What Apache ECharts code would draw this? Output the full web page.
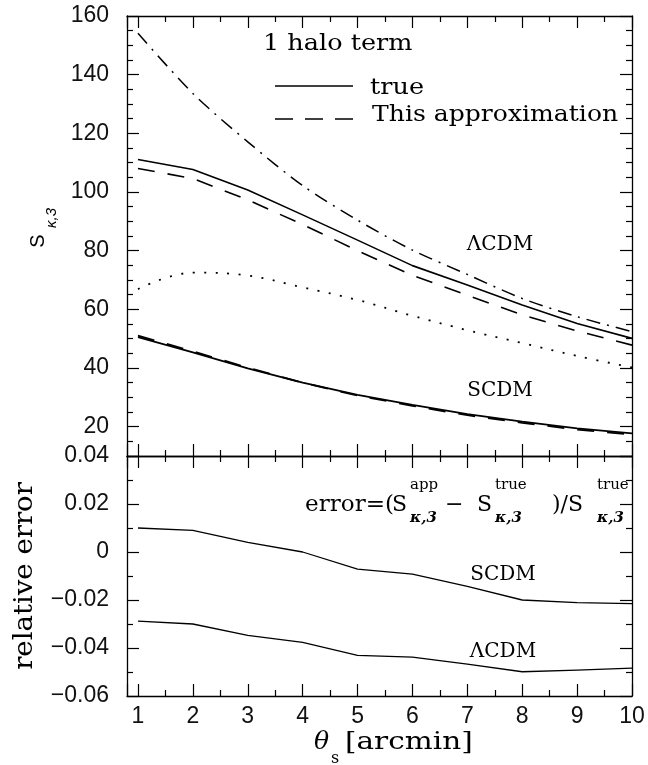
<!DOCTYPE html>
<html>
<head>
<meta charset="utf-8">
<script src="https://cdn.jsdelivr.net/npm/echarts@6/dist/echarts.min.js"></script>
<style>
  html, body { margin: 0; padding: 0; background: #fff; }
  #wrap { position: relative; width: 648px; height: 765px; }
  #main, #notes { position: absolute; left: 0; top: 0; width: 648px; height: 765px; }
  #notes { pointer-events: none; }
</style>
</head>
<body>
<div id="wrap"><div id="main"></div><div id="notes"></div></div>
<script>
// theta_s [arcmin]
var thetaS = [1, 2, 3, 4, 5, 6, 7, 8, 9, 10];

// S_kappa,3 , upper panel
var lcdmTrue    = [111.1, 107.7, 100.7, 92.2, 83.6, 74.9, 68.3, 61.5, 55.2, 50.1];
var lcdmApprox  = [108.0, 104.6, 97.3, 88.9, 80.0, 71.6, 64.8, 58.1, 52.6, 47.8];
var lcdmDotDash = [154.1, 133.6, 117.1, 102.2, 90.4, 80.2, 71.9, 63.7, 57.5, 52.4];
var dottedCurve = [66.9, 72.5, 71.5, 67.5, 63.2, 57.8, 52.9, 48.5, 44.1, 40.2];
var scdmTrue    = [50.5, 45.3, 39.9, 35.0, 30.8, 27.4, 24.3, 21.7, 19.4, 17.7];
var scdmApprox  = [51.0, 45.7, 40.1, 35.0, 30.6, 27.1, 23.9, 21.3, 19.0, 17.3];

// relative error, lower panel
var errScdm = [0.0100, 0.0090, 0.0040, 0.0000, -0.0071, -0.0092, -0.0143, -0.0200, -0.0211, -0.0215];
var errLcdm = [-0.0288, -0.0300, -0.0347, -0.0377, -0.0431, -0.0438, -0.0467, -0.0499, -0.0492, -0.0484];

var SERIF = '"DejaVu Serif", serif';
var SANS = '"Liberation Sans", Arial, sans-serif';

function pairs(ys) {
  return thetaS.map(function (x, i) { return [x, ys[i]]; });
}

function tick() {
  return { show: true, inside: true, length: 12, lineStyle: { color: '#000', width: 1.2 } };
}
function minor(n) {
  return { show: true, splitNumber: n, length: 6, lineStyle: { color: '#000', width: 1.2 } };
}
function axLine() {
  return { show: true, onZero: false, lineStyle: { color: '#000', width: 1.3 } };
}

function xAx(grid, pos, showLabel) {
  return {
    type: 'value', gridIndex: grid, position: pos, min: 0.8, max: 10, splitNumber: 9,
    axisLine: axLine(), axisTick: tick(), minorTick: minor(2),
    splitLine: { show: false }, minorSplitLine: { show: false },
    axisLabel: {
      show: showLabel, margin: 9, fontFamily: SANS, fontSize: 23, color: '#111',
      formatter: function (v) { return v < 1 ? '' : String(v); }
    }
  };
}

function yTop(pos, showLabel) {
  return {
    type: 'value', gridIndex: 0, position: pos, min: 10, max: 160, splitNumber: 8,
    axisLine: axLine(), axisTick: tick(), minorTick: minor(4),
    splitLine: { show: false }, minorSplitLine: { show: false },
    axisLabel: {
      show: showLabel, margin: 18, fontFamily: SANS, fontSize: 23, color: '#111',
      formatter: function (v) { return v < 20 ? '' : String(v); }
    }
  };
}

function yBot(pos, showLabel) {
  return {
    type: 'value', gridIndex: 1, position: pos, min: -0.06, max: 0.04, interval: 0.02,
    axisLine: axLine(), axisTick: tick(), minorTick: minor(2),
    splitLine: { show: false }, minorSplitLine: { show: false },
    axisLabel: {
      show: showLabel, margin: 18, fontFamily: SANS, fontSize: 23, color: '#111',
      formatter: function (v) {
        if (Math.abs(v) < 1e-9) return '0';
        return (v < 0 ? '\u2212' : '') + Math.abs(v).toFixed(2);
      }
    }
  };
}

function curve(name, ys, dash, width, xi, yi, smooth) {
  return {
    name: name, type: 'line', xAxisIndex: xi, yAxisIndex: yi,
    data: pairs(ys), symbol: 'none', smooth: smooth || false, silent: true,
    lineStyle: { color: '#000', width: width, type: dash, cap: 'butt' },
    z: 3
  };
}

function txt(x, y, s, size, extra) {
  var o = {
    type: 'text', x: x, y: y, silent: true,
    style: { text: s, fontFamily: SERIF, fontSize: size, fill: '#000', align: 'left', verticalAlign: 'middle' }
  };
  for (var k in extra || {}) {
    if (k === 'style') { for (var j in extra.style) o.style[j] = extra.style[j]; }
    else o[k] = extra[k];
  }
  return o;
}

function kappa() { return { style: { fontStyle: 'italic', fontWeight: 'bold' } }; }

// axes and curves
var chart = echarts.init(document.getElementById('main'));
chart.setOption({
  animation: false,
  backgroundColor: '#fff',
  grid: [
    { left: 127, right: 16, top: 16, height: 440 },
    { left: 127, right: 16, top: 456, height: 240 }
  ],
  xAxis: [xAx(0, 'bottom', false), xAx(0, 'top', false), xAx(1, 'bottom', true), xAx(1, 'top', false)],
  yAxis: [yTop('left', true), yTop('right', false), yBot('left', true), yBot('right', false)],
  series: [
    curve('lcdmDotDash', lcdmDotDash, [14, 7, 2, 7], 1.5, 0, 0, 0.3),
    curve('lcdmTrue', lcdmTrue, 'solid', 1.6, 0, 0),
    curve('lcdmApprox', lcdmApprox, [17, 13], 1.6, 0, 0),
    curve('dotted', dottedCurve, [2, 9.5], 1.8, 0, 0, 0.4),
    curve('scdmTrue', scdmTrue, 'solid', 1.8, 0, 0),
    curve('scdmApprox', scdmApprox, [17, 13], 1.8, 0, 0),
    curve('errScdm', errScdm, 'solid', 1.3, 2, 2),
    curve('errLcdm', errLcdm, 'solid', 1.3, 2, 2)
  ]
});

// annotations, legend and axis titles on a transparent layer
var notes = echarts.init(document.getElementById('notes'));
notes.setOption({
  animation: false,
  backgroundColor: 'transparent',
  graphic: [
    txt(263, 44, '1 halo term', 22, { scaleX: 1.16 }),
    { type: 'line', silent: true, shape: { x1: 275, y1: 86, x2: 353, y2: 86 }, style: { stroke: '#000', lineWidth: 1.5 } },
    txt(370, 88, 'true', 22, { scaleX: 1.16 }),
    { type: 'line', silent: true, shape: { x1: 275, y1: 119, x2: 353, y2: 119 }, style: { stroke: '#000', lineWidth: 1.5, lineDash: [18, 12] } },
    txt(372, 115, 'This approximation', 22, { scaleX: 1.14 }),

    txt(500, 245, '\u039BCDM', 20, { style: { align: 'center' } }),
    txt(500, 391, 'SCDM', 20, { style: { align: 'center' } }),
    txt(503, 575, 'SCDM', 20, { style: { align: 'center' } }),
    txt(503, 652, '\u039BCDM', 20, { style: { align: 'center' } }),

    txt(305, 505, 'error=(', 22, { scaleX: 1.05 }),
    txt(392, 505, 'S', 22),
    txt(410, 485, 'app', 15),
    txt(410, 518, '\u03BA,3', 15, kappa()),
    txt(445, 505, '\u2212', 22),
    txt(477, 505, 'S', 22),
    txt(495, 485, 'true', 15),
    txt(495, 518, '\u03BA,3', 15, kappa()),
    txt(552, 505, ')/S', 22),
    txt(597, 485, 'true', 15),
    txt(597, 518, '\u03BA,3', 15, kappa()),

    txt(38, 241, 'S', 20, { rotation: Math.PI / 2, style: { fontFamily: SANS, align: 'center' } }),
    txt(52, 218, '\u03BA,3', 15, { rotation: Math.PI / 2, style: { fontFamily: SANS, fontStyle: 'italic', align: 'center' } }),
    txt(25, 576, 'relative error', 26, { rotation: Math.PI / 2, scaleX: 1.06, style: { align: 'center' } }),
    txt(314, 742, '\u03B8', 25, { style: { fontStyle: 'italic' } }),
    txt(331, 759, 's', 16),
    txt(345, 742, '[arcmin]', 25, { scaleX: 1.18 })
  ]
});
</script>
</body>
</html>
